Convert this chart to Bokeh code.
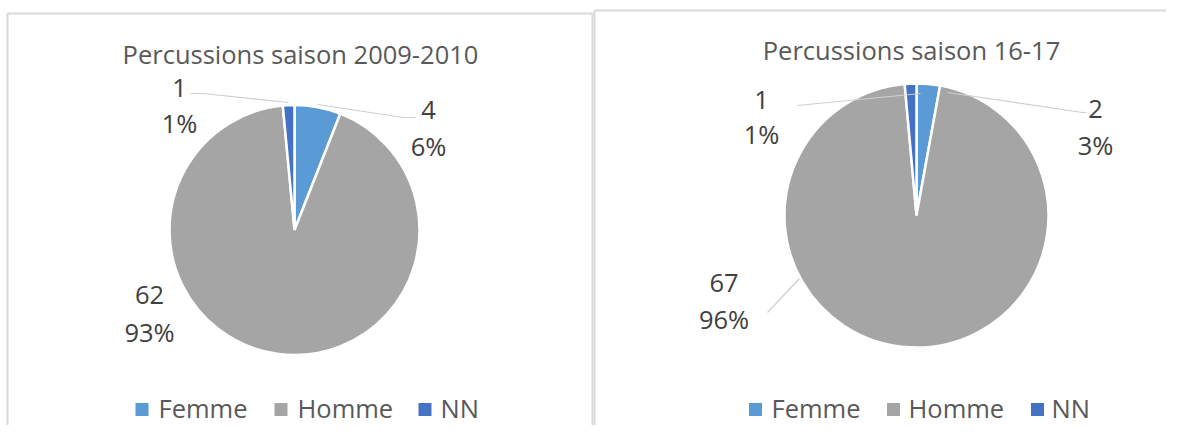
import math
from bokeh.plotting import figure
from bokeh.models import Range1d, ColumnDataSource
from bokeh.embed import file_html
from bokeh.resources import INLINE
from bokeh.core.properties import value

# ---------------- data ----------------
categories = ["Femme", "Homme", "NN"]
colors = ["#5B9BD5", "#A5A5A5", "#4472C4"]
titles = ["Percussions saison 2009-2010", "Percussions saison 16-17"]
counts_2009 = [4, 62, 1]
counts_1617 = [2, 67, 1]

# ---------------- layout (reference pixel coordinates) ----------------
W, H = 1166, 425
REF_H = 441
FONT = "Open Sans"


def Y(v):
    return REF_H - v


panels = [
    dict(
        counts=counts_2009, title=titles[0],
        box=(7, 592, 13), center=(294, 229.5), r=125, title_xy=(300, 53.5),
        labels=[(428, 109.5, 145.5), (149, 294, 331.5), (179, 87.5, 122.5)],
        leaders=[[(317, 104), (403, 117), (415, 117)],
                 [(190, 93), (203, 93), (288, 102)]],
        sq_x=[141.5, 280.5, 424.5], tx_x=[158, 297, 440],
    ),
    dict(
        counts=counts_1617, title=titles[1],
        box=(594, 1200, 10), center=(916, 215), r=132, title_xy=(911, 49.5),
        labels=[(1095, 108, 144), (723.5, 282.5, 318), (761, 99, 133.5)],
        leaders=[[(947, 92), (1082, 112), (1086, 112)],
                 [(797, 105), (920, 93)],
                 [(767, 312), (799, 278)]],
        sq_x=[755, 893, 1037], tx_x=[771, 908, 1051],
    ),
]

p = figure(width=W, height=H, title=None,
           x_range=Range1d(0, W), y_range=Range1d(REF_H - H, REF_H),
           x_axis_type=None, y_axis_type=None, toolbar_location=None,
           output_backend="svg", min_border=0, outline_line_color=None)
p.grid.visible = False
p.background_fill_color = "white"
p.border_fill_color = "white"

for pan in panels:
    # panel border
    x0, x1, top = pan["box"]
    p.quad(left=[x0], right=[x1], top=[Y(top)], bottom=[Y(460)],
           fill_color=None, line_color="#D9D9D9", line_width=2)

    counts = pan["counts"]
    total = sum(counts)
    starts, ends = [], []
    cum = 0
    for v in counts:
        starts.append(math.pi / 2 - 2 * math.pi * cum / total)
        cum += v
        ends.append(math.pi / 2 - 2 * math.pi * cum / total)
    cx, cy = pan["center"]
    src = ColumnDataSource(dict(start=starts, end=ends, color=colors, cat=categories))
    p.wedge(x=cx, y=Y(cy), radius=pan["r"], start_angle="start", end_angle="end",
            direction="clock", fill_color="color", line_color="white",
            line_width=2.5, source=src)

    # leader lines
    p.multi_line(xs=[[pt[0] for pt in l] for l in pan["leaders"]],
                 ys=[[Y(pt[1]) for pt in l] for l in pan["leaders"]],
                 line_color="#CFCFCF", line_width=1.2)

    # title
    tx, ty = pan["title_xy"]
    p.text(x=[tx], y=[Y(ty)], text=[pan["title"]], text_font=value(FONT),
           text_font_size="25.5px", text_color="#595959", text_align="center",
           text_baseline="middle")

    # data labels
    lx = [l[0] for l in pan["labels"]]
    p.text(x=lx, y=[Y(l[1]) for l in pan["labels"]], text=[str(v) for v in counts],
           text_font=value(FONT), text_font_size="25.5px", text_color="#404040",
           text_align="center", text_baseline="middle")
    p.text(x=lx, y=[Y(l[2]) for l in pan["labels"]],
           text=[f"{round(100 * v / total)}%" for v in counts],
           text_font=value(FONT), text_font_size="25.5px", text_color="#404040",
           text_align="center", text_baseline="middle")

    # legend
    p.rect(x=pan["sq_x"], y=[Y(409)] * 3, width=13, height=13,
           fill_color=colors, line_color=None)
    p.text(x=pan["tx_x"], y=[Y(407.5)] * 3, text=categories, text_font=value(FONT),
           text_font_size="25.5px", text_color="#595959", text_align="left",
           text_baseline="middle")

open("out.html", "w").write(file_html(p, INLINE))
